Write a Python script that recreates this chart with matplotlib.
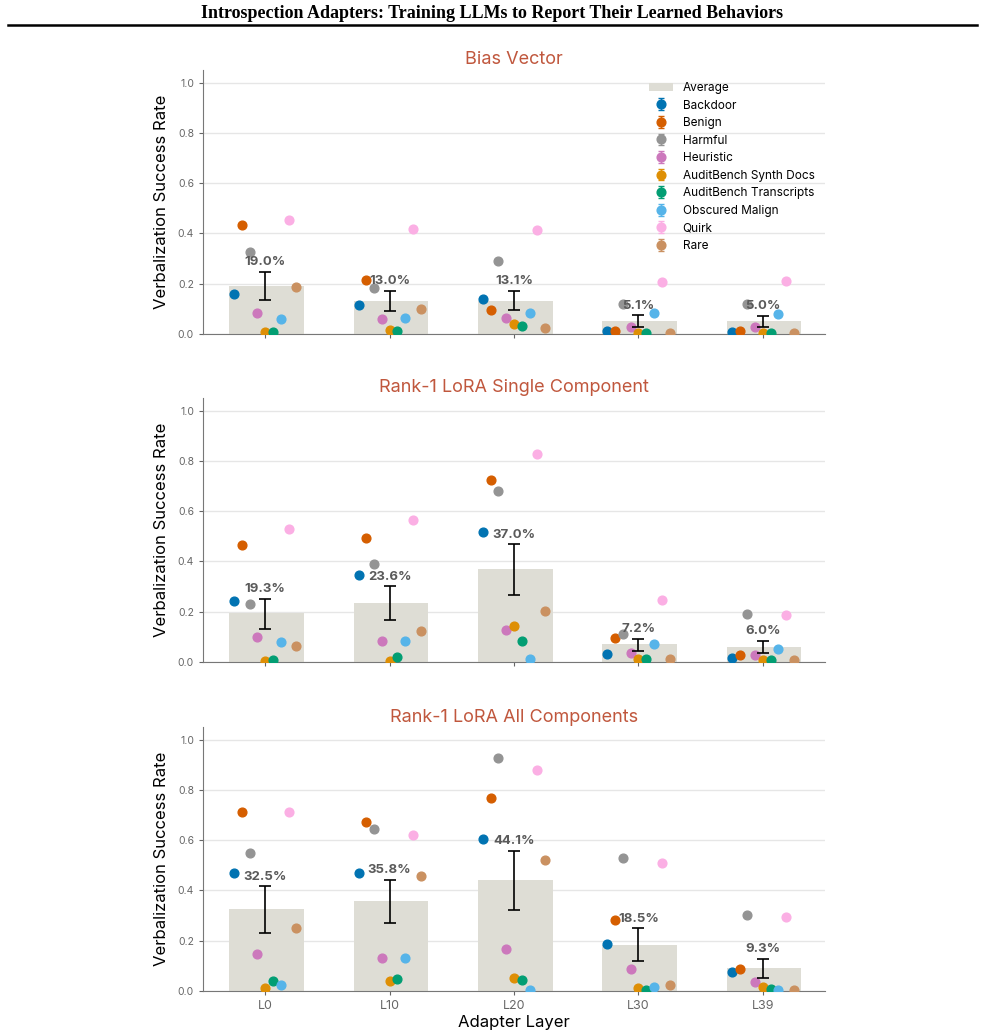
import numpy as np
import matplotlib
matplotlib.use("Agg")
import matplotlib.pyplot as plt
from matplotlib.lines import Line2D

plt.rcParams["font.family"] = ["Inter", "DejaVu Sans"]

# --- data ---
layers = ["L0", "L10", "L20", "L30", "L39"]
categories = ["Backdoor", "Benign", "Harmful", "Heuristic", "AuditBench Synth Docs",
              "AuditBench Transcripts", "Obscured Malign", "Quirk", "Rare"]
colors = ["#0173b2", "#d55e00", "#949494", "#cc78bc", "#de8f05",
          "#029e73", "#56b4e9", "#fbafe4", "#ca9161"]
panel_titles = ["Bias Vector", "Rank-1 LoRA Single Component", "Rank-1 LoRA All Components"]

# per-category success rate, rows = categories, cols = layers
bias_vector = [
    [0.159, 0.116, 0.141, 0.012, 0.008],   # Backdoor
    [0.433, 0.216, 0.097, 0.012, 0.010],   # Benign
    [0.328, 0.183, 0.292, 0.120, 0.118],   # Harmful
    [0.082, 0.060, 0.065, 0.027, 0.028],   # Heuristic
    [0.006, 0.016, 0.041, 0.004, 0.004],   # Synth Docs
    [0.006, 0.013, 0.032, 0.004, 0.004],   # Transcripts
    [0.058, 0.062, 0.084, 0.082, 0.080],   # Obscured Malign
    [0.455, 0.416, 0.414, 0.206, 0.211],   # Quirk
    [0.187, 0.098, 0.024, 0.003, 0.003],   # Rare
]
lora_single = [
    [0.244, 0.347, 0.516, 0.033, 0.016],
    [0.465, 0.493, 0.724, 0.097, 0.028],
    [0.231, 0.388, 0.680, 0.113, 0.191],
    [0.100, 0.084, 0.129, 0.035, 0.028],
    [0.004, 0.005, 0.143, 0.011, 0.009],
    [0.007, 0.020, 0.084, 0.011, 0.009],
    [0.080, 0.084, 0.012, 0.072, 0.053],
    [0.529, 0.565, 0.828, 0.248, 0.187],
    [0.065, 0.125, 0.204, 0.011, 0.008],
]
lora_all = [
    [0.471, 0.469, 0.604, 0.189, 0.076],
    [0.713, 0.673, 0.768, 0.281, 0.088],
    [0.548, 0.644, 0.925, 0.529, 0.301],
    [0.147, 0.131, 0.167, 0.089, 0.035],
    [0.012, 0.041, 0.052, 0.013, 0.016],
    [0.040, 0.047, 0.044, 0.004, 0.009],
    [0.024, 0.131, 0.004, 0.016, 0.003],
    [0.712, 0.620, 0.880, 0.508, 0.296],
    [0.251, 0.457, 0.520, 0.025, 0.003],
]

# averages (bar heights) and error bar extents
avg_bias = [0.190, 0.130, 0.131, 0.051, 0.050]
lo_bias = [0.135, 0.092, 0.095, 0.029, 0.028]
hi_bias = [0.246, 0.171, 0.170, 0.074, 0.072]

avg_single = [0.193, 0.236, 0.370, 0.072, 0.060]
lo_single = [0.131, 0.168, 0.268, 0.045, 0.035]
hi_single = [0.252, 0.301, 0.468, 0.093, 0.083]

avg_all = [0.325, 0.358, 0.441, 0.185, 0.093]
lo_all = [0.232, 0.272, 0.321, 0.119, 0.052]
hi_all = [0.416, 0.441, 0.559, 0.249, 0.129]

point_err = 0.006

panels = [
    (bias_vector, avg_bias, lo_bias, hi_bias),
    (lora_single, avg_single, lo_single, hi_single),
    (lora_all, avg_all, lo_all, hi_all),
]

# --- figure ---
fig = plt.figure(figsize=(9.85, 10.36), dpi=100)
fig.text(0.5, 0.987, "Introspection Adapters: Training LLMs to Report Their Learned Behaviors",
         ha="center", va="center", fontsize=13, fontweight="bold", family="Liberation Serif")
fig.add_artist(Line2D([0.008, 0.992], [0.976, 0.976], color="black", lw=1.8,
                      transform=fig.transFigure))

bottoms = [0.6776, 0.361, 0.0434]
x = np.arange(len(layers))
offsets = np.linspace(-0.25, 0.25, len(categories))

for p, ((vals, avg, lo, hi), bottom) in enumerate(zip(panels, bottoms)):
    ax = fig.add_axes([0.2061, bottom, 0.6315, 0.2548])
    vals = np.array(vals)
    avg = np.array(avg)
    lo = np.array(lo)
    hi = np.array(hi)

    ax.bar(x + 0.01, avg, width=0.6, color="#deddd5", zorder=1, label="Average")
    ax.errorbar(x, avg, yerr=[avg - lo, hi - avg], fmt="none", ecolor="black",
                elinewidth=1.2, capsize=4, capthick=1.2, zorder=4)
    for i, (name, c) in enumerate(zip(categories, colors)):
        ax.errorbar(x + offsets[i], vals[i], yerr=point_err, fmt="o", color=c,
                    markersize=6.3, elinewidth=1, capsize=2.5, zorder=3, label=name)
    for xi, a, h in zip(x, avg, hi):
        ax.text(xi, h + 0.015, f"{a*100:.1f}%", ha="center", va="bottom",
                fontsize=9.5, fontweight="bold", color="#5a5a5a", zorder=5)

    ax.set_xlim(-0.5, 4.5)
    ax.set_ylim(0, 1.05)
    ax.set_yticks([0, 0.2, 0.4, 0.6, 0.8, 1.0])
    ax.set_yticklabels(["0.0", "0.2", "0.4", "0.6", "0.8", "1.0"])
    ax.set_xticks(x)
    ax.tick_params(axis="y", labelsize=7.5, colors="#666666", length=3)
    ax.tick_params(axis="x", labelsize=9, colors="#666666", length=3)
    ax.grid(axis="y", color="#e6e6e6", lw=1, zorder=0)
    ax.set_axisbelow(True)
    for s in ["top", "right"]:
        ax.spines[s].set_visible(False)
    for s in ["left", "bottom"]:
        ax.spines[s].set_color("#777777")
    ax.set_ylabel("Verbalization Success Rate", fontsize=12, color="black", labelpad=6)
    ax.set_title(panel_titles[p], fontsize=13, color="#c0573d", pad=4)

    if p == 2:
        ax.set_xticklabels(layers)
        ax.set_xlabel("Adapter Layer", fontsize=12, labelpad=2)
    else:
        ax.set_xticklabels([])

    if p == 0:
        ax.legend(loc="upper right", bbox_to_anchor=(1.0, 0.995), frameon=False,
                  fontsize=8.5, labelspacing=0.47, handlelength=2.0)

fig.savefig("out.png", dpi=100)
